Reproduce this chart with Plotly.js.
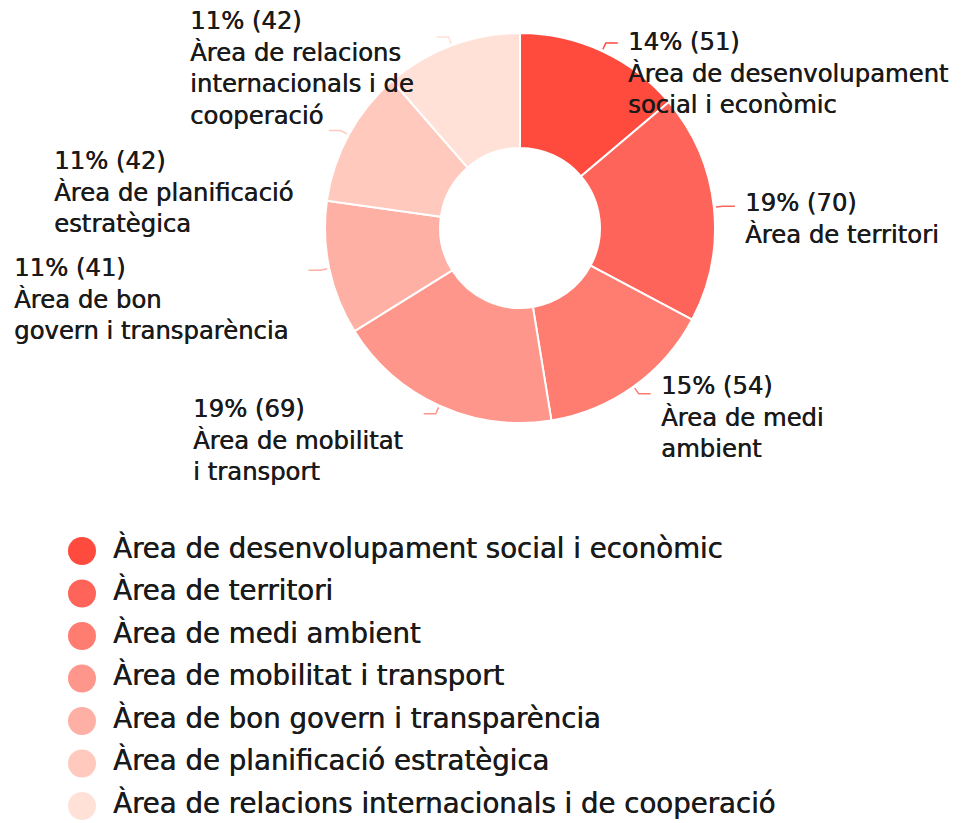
<!DOCTYPE html>
<html>
<head>
<meta charset="utf-8">
<script src="https://cdn.plot.ly/plotly-3.0.1.min.js"></script>
<style>html,body{margin:0;padding:0;background:#fff;}</style>
</head>
<body>
<div id="chart" style="width:971px;height:823px;"></div>
<script>
// ---- data ----
const categories = [
  "Àrea de desenvolupament social i econòmic",
  "Àrea de territori",
  "Àrea de medi ambient",
  "Àrea de mobilitat i transport",
  "Àrea de bon govern i transparència",
  "Àrea de planificació estratègica",
  "Àrea de relacions internacionals i de cooperació"
];
const values = [51, 70, 54, 69, 41, 42, 42];
const wrappedLabels = [
  "Àrea de desenvolupament<br>social i econòmic",
  "Àrea de territori",
  "Àrea de medi<br>ambient",
  "Àrea de mobilitat<br>i transport",
  "Àrea de bon<br>govern i transparència",
  "Àrea de planificació<br>estratègica",
  "Àrea de relacions<br>internacionals i de<br>cooperació"
];
const colors = ["#ff4a3e", "#ff645a", "#ff7c71", "#ff968b", "#ffb0a5", "#ffc9be", "#ffe1d8"];

// ---- layout helpers (pixels -> paper) ----
const W = 971, H = 823;
const cx = 520, cy = 228, R = 195;
const px = x => x / W;
const py = y => 1 - y / H;

// label block placement (left edge x, first line centre y), in pixels
const labelPlace = [
  [628, 42], [745, 203], [661, 386], [193, 409], [14, 268], [54, 161], [190, 21]
];
const labelFont = {family: 'DejaVu Sans, sans-serif', size: 24.3, color: '#1a1a1a', shadow: '0.5px 0 0 #1a1a1a'};
const legendFont = {family: 'DejaVu Sans, sans-serif', size: 27.6, color: '#1a1a1a', shadow: '0.5px 0 0 #1a1a1a'};

const total = values.reduce((a, b) => a + b, 0);
const annotations = [];
const shapes = [];
let cum = 0;
values.forEach((v, i) => {
  const mid = (cum + v / 2) / total * 2 * Math.PI;
  cum += v;
  const pct = Math.round(v / total * 100);
  const [lx, ly] = labelPlace[i];
  annotations.push({
    xref: 'paper', yref: 'paper',
    x: px(lx - 2), y: py(ly - 17),
    xanchor: 'left', yanchor: 'top', align: 'left',
    showarrow: false,
    text: pct + '% (' + v + ')<br>' + wrappedLabels[i],
    font: labelFont
  });
  // leader stub
  const sx = cx + (R + 2) * Math.sin(mid), sy = cy - (R + 2) * Math.cos(mid);
  const ex = cx + (R + 9) * Math.sin(mid), ey = cy - (R + 9) * Math.cos(mid);
  const side = Math.sin(mid) >= 0 ? 1 : -1;
  shapes.push({
    type: 'path', xref: 'paper', yref: 'paper',
    path: 'M' + px(sx) + ',' + py(sy) + ' L' + px(ex) + ',' + py(ey) + ' L' + px(ex + side * 12) + ',' + py(ey),
    line: {color: colors[i], width: 1.5}
  });
});

// pie
const pie = {
  type: 'pie',
  values: values,
  labels: categories,
  sort: false,
  direction: 'clockwise',
  rotation: 0,
  hole: 0.41,
  textinfo: 'none',
  hoverinfo: 'label+value+percent',
  marker: {colors: colors, line: {color: '#ffffff', width: 2}},
  domain: {x: [px(cx - R), px(cx + R)], y: [py(cy + R), py(cy - R)]},
  showlegend: false
};

// custom legend (circles + text) drawn with scatter on hidden axes
const idx = categories.map((_, i) => i);
const legendMarkers = {
  type: 'scatter', mode: 'markers',
  x: idx.map(() => 0), y: idx,
  marker: {size: 28, color: colors, symbol: 'circle'},
  hoverinfo: 'skip', showlegend: false
};
const legendText = {
  type: 'scatter', mode: 'text',
  x: idx.map(() => 31), y: idx,
  text: categories,
  textposition: 'middle right',
  textfont: legendFont,
  hoverinfo: 'skip', showlegend: false
};

const rowH = 42.5, row0 = 551, legendX = 82;
const layout = {
  width: W, height: H,
  margin: {l: 0, r: 0, t: 0, b: 0},
  paper_bgcolor: '#fff', plot_bgcolor: 'rgba(0,0,0,0)',
  showlegend: false,
  xaxis: {visible: false, range: [-legendX, W - legendX], fixedrange: true},
  yaxis: {visible: false, range: [(H - row0) / rowH, -row0 / rowH], fixedrange: true},
  annotations: annotations,
  shapes: shapes
};

Plotly.newPlot('chart', [pie, legendMarkers, legendText], layout, {displayModeBar: false, staticPlot: true});
</script>
</body>
</html>
